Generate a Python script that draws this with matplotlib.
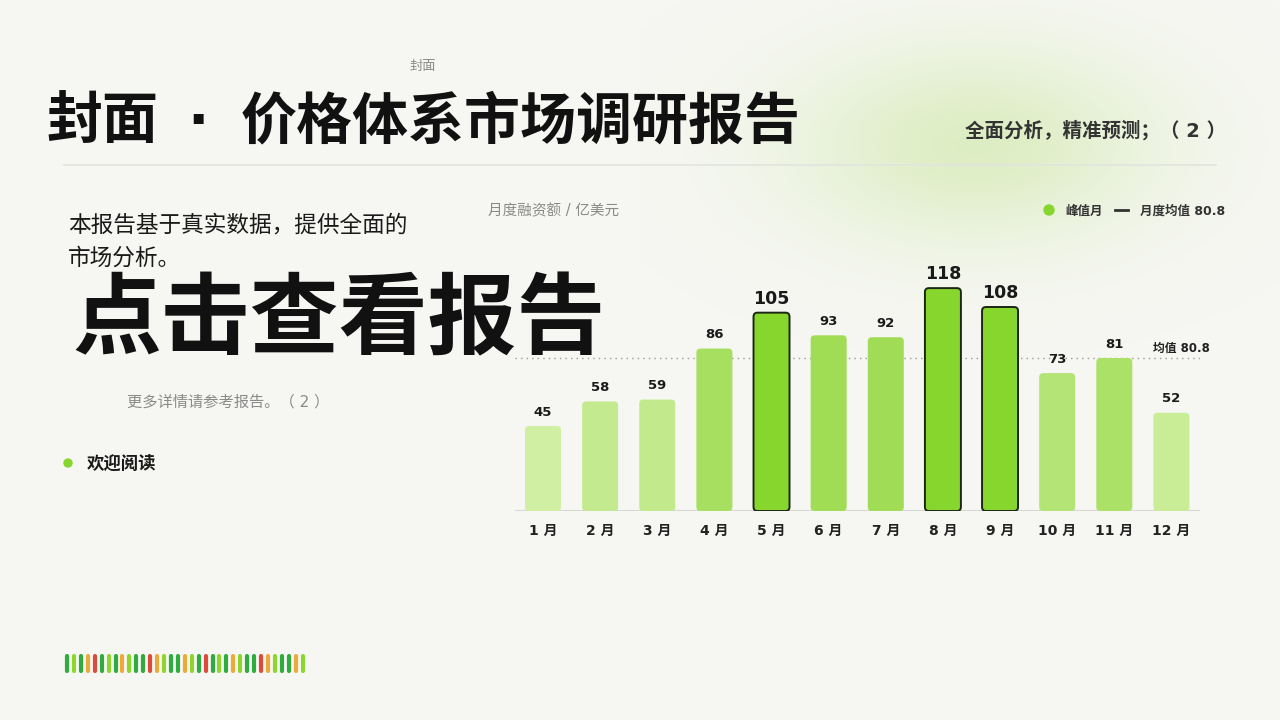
import numpy as np
import matplotlib
matplotlib.use("Agg")
import matplotlib.pyplot as plt
from matplotlib.patches import FancyBboxPatch, Circle
from matplotlib.colors import to_rgb

plt.rcParams['font.family'] = ['DejaVu Sans', 'Noto Sans CJK SC']

# data
months = ['1 月', '2 月', '3 月', '4 月', '5 月', '6 月', '7 月', '8 月', '9 月', '10 月', '11 月', '12 月']
values = [45, 58, 59, 86, 105, 93, 92, 118, 108, 73, 81, 52]
peak_months = ['5 月', '8 月', '9 月']
mean_value = 80.8
stripe_kinds = list("GLGORGLGOLGGROLGGOLGRGLGOLGGROLGGOL")

BG = '#f6f7f2'
PEAK = '#86d62e'
LIGHT = '#d0efa3'
MID = '#a0dc54'

fig = plt.figure(figsize=(12.8, 7.2), dpi=100)
fig.patch.set_facecolor(BG)

# full-page layer in pixel coords
bg = fig.add_axes([0, 0, 1, 1], zorder=0)
bg.axis('off')

# soft green glow top right
gx, gy = np.meshgrid(np.linspace(640, 1280, 320), np.linspace(0, 360, 200))
g = np.exp(-(((gx - 975) / 125.0) ** 2 + ((gy - 145) / 68.0) ** 2) / 2)
img = np.zeros(gx.shape + (4,))
img[..., :3] = to_rgb('#cde7a4')
img[..., 3] = 0.6 * g
bg.imshow(img, extent=(640, 1280, 360, 0), aspect='auto', interpolation='bilinear', zorder=0)
bg.set_xlim(0, 1280)
bg.set_ylim(720, 0)

bg.text(423, 66, '封面', fontsize=9.5, color='#8a8a8a', ha='center', va='center')
title_kw = dict(fontsize=40.3, fontweight='bold', color='#111111', va='center')
bg.text(46, 123, '封面', ha='left', **title_kw)
bg.text(198, 123, '·', ha='center', **title_kw)
bg.text(241, 123, '价格体系市场调研报告', ha='left', **title_kw)
bg.text(1226, 130, '全面分析，精准预测；（ 2 ）', fontsize=14, fontweight='bold',
        color='#333333', ha='right', va='center')
bg.plot([64, 1216], [165, 165], color='#e2e4de', lw=1.2)

bg.text(68, 225, '本报告基于真实数据，提供全面的', fontsize=16.3, color='#1a1a1a', ha='left', va='center')
bg.text(68, 258, '市场分析。', fontsize=16.3, color='#1a1a1a', ha='left', va='center')
bg.text(72, 323, '点击查看报告', fontsize=64, fontweight='bold', color='#111111',
        ha='left', va='center')
bg.text(127, 402, '更多详情请参考报告。（ 2 ）', fontsize=11, color='#8a8a8a', ha='left', va='center')
bg.add_patch(Circle((68, 463), 4, color=PEAK))
bg.text(87, 464, '欢迎阅读', fontsize=12.5, fontweight='bold', color='#1a1a1a', ha='left', va='center')

# decorative stripes
stripe_colors = {'G': '#2fab3f', 'L': '#8fd42f', 'O': '#eea93b', 'R': '#de4b3e'}
xs = 67 + np.arange(len(stripe_kinds)) * 6.93
lc = bg.vlines(xs, 656, 671, colors=[stripe_colors[k] for k in stripe_kinds], lw=3.0)
lc.set_capstyle('round')

# chart header and legend
bg.text(488, 211, '月度融资额 / 亿美元', fontsize=10.5, color='#8a8a8a', ha='left', va='center')
bg.add_patch(Circle((1049, 210), 5, color=PEAK))
bg.text(1065, 211, '峰值月', fontsize=9, fontweight='bold', color='#333333', ha='left', va='center')
bg.plot([1115, 1128], [210, 210], color='#333333', lw=2)
bg.text(1140, 211, '月度均值 80.8', fontsize=9, fontweight='bold', color='#333333', ha='left', va='center')

# bar chart
ax = fig.add_axes([515 / 1280, (720 - 511) / 720, 685 / 1280, 255 / 720], zorder=2)
ax.patch.set_alpha(0)
ax.set_xlim(-0.49, 11.5)
ax.set_ylim(0, 135)
for s in ax.spines.values():
    s.set_visible(False)
ax.set_yticks([])

lo, hi = to_rgb(LIGHT), to_rgb(MID)
for i, (m, v) in enumerate(zip(months, values)):
    peak = m in peak_months
    if peak:
        fc, ec, lw = PEAK, '#1d2614', 1.4
    else:
        t = np.clip((v - 45) / (93 - 45), 0, 1)
        fc = tuple(a + (b - a) * t for a, b in zip(lo, hi))
        ec, lw = 'none', 0
    ax.add_patch(FancyBboxPatch((i - 0.315, 0), 0.63, v,
                                boxstyle='round,pad=0,rounding_size=0.07',
                                mutation_aspect=30, facecolor=fc, edgecolor=ec,
                                linewidth=lw, zorder=3))
    ax.text(i, v + 7.4, str(v), ha='center', va='center', fontweight='bold',
            fontsize=12.5 if peak else 9.5, color='#1a1a1a', zorder=4)

ax.axhline(mean_value, color='#9a9a9a', lw=1, ls=(0, (1, 3)), zorder=2)
ax.text(10.68, mean_value + 5.4, '均值 80.8', fontsize=8.5, fontweight='bold',
        color='#222222', ha='left', va='center')
ax.axhline(0, color='#d6d8d2', lw=1.5, zorder=2)

ax.set_xticks(range(len(months)), months)
ax.tick_params(axis='x', length=0, pad=9, labelsize=10, labelcolor='#222222')
for lab in ax.get_xticklabels():
    lab.set_fontweight('bold')

fig.savefig('out.png', dpi=100, facecolor=BG)
